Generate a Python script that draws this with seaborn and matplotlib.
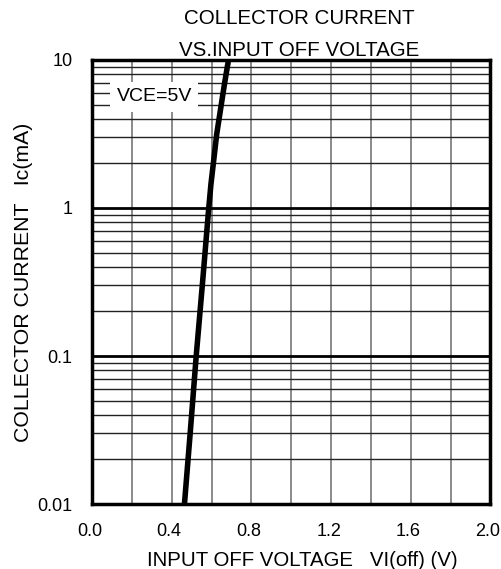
import matplotlib
matplotlib.use("Agg")
import matplotlib.pyplot as plt
import matplotlib.transforms as mtransforms
import seaborn as sns
import pandas as pd
import numpy as np
from matplotlib.ticker import FixedLocator, LogLocator, NullFormatter

# Data
vi_off = [0.464, 0.494, 0.523, 0.555, 0.586, 0.597, 0.626, 0.665, 0.685]
ic_ma = [0.01, 0.0316, 0.1, 0.316, 1.0, 1.45, 3.16, 6.9, 10.0]
x_ticks = [0.0, 0.4, 0.8, 1.2, 1.6, 2.0]
x_tick_labels = ["0.0", "0.4", "0.8", "1.2", "1.6", "2.0"]
y_ticks = [0.01, 0.1, 1, 10]
y_tick_labels = ["0.01", "0.1", "1", "10"]
legend_text = "VCE=5V"

sns.set_style("white")
plt.rcParams['font.family'] = ['Liberation Sans', 'DejaVu Sans']

fig = plt.figure(figsize=(5.02, 5.69), dpi=100)
ax = fig.add_axes([0.1833, 0.1142, 0.7937, 0.7804])

df = pd.DataFrame({"VI(off)": vi_off, "Ic": ic_ma})
sns.lineplot(data=df, x="VI(off)", y="Ic", ax=ax, color="black", linewidth=4,
             sort=False, zorder=5)

ax.set_yscale("log")
ax.set_xlim(0, 2.0)
ax.set_ylim(0.01, 10)

# grid
ax.xaxis.set_minor_locator(FixedLocator(np.arange(0.2, 2.0, 0.2)))
ax.xaxis.set_major_locator(FixedLocator(x_ticks))
ax.set_xticklabels(x_tick_labels)
ax.yaxis.set_major_locator(FixedLocator(y_ticks))
ax.set_yticklabels(y_tick_labels)
ax.yaxis.set_minor_locator(LogLocator(base=10, subs=np.arange(2, 10)))
ax.yaxis.set_minor_formatter(NullFormatter())

ax.grid(False)
ax.grid(axis="x", which="both", color="#777777", linewidth=1.2, zorder=1)
ax.grid(axis="y", which="minor", color="#222222", linewidth=1.0, zorder=1)
ax.grid(axis="y", which="major", color="black", linewidth=2.0, zorder=2)
ax.set_axisbelow(True)

ax.tick_params(axis="both", which="both", length=0, labelsize=13, colors="black")
ax.tick_params(axis="x", pad=14)
ax.tick_params(axis="y", pad=14)

shift = mtransforms.ScaledTranslation(-2.5 / 100, 0, fig.dpi_scale_trans)
for lbl in ax.get_xticklabels():
    lbl.set_transform(lbl.get_transform() + shift)

for s in ax.spines.values():
    s.set_visible(True)
    s.set_color("black")
    s.set_linewidth(2.5)

ax.set_xlabel("INPUT OFF VOLTAGE   VI(off) (V)", fontsize=14.7, color="black", labelpad=4)
ax.xaxis.set_label_coords(0.528, -0.105)
ax.set_ylabel("COLLECTOR CURRENT   Ic(mA)", fontsize=15.3, color="black", labelpad=3)
ax.set_title("COLLECTOR CURRENT\nVS.INPUT OFF VOLTAGE", fontsize=14.8,
             color="black", linespacing=1.85, pad=3, x=0.52)

ax.text(0.156, 0.917, legend_text, transform=ax.transAxes, ha="center", va="center",
        fontsize=14, color="black", zorder=6,
        bbox=dict(boxstyle="square,pad=0.32", facecolor="white", edgecolor="none"))

fig.savefig("out.png", dpi=100)
